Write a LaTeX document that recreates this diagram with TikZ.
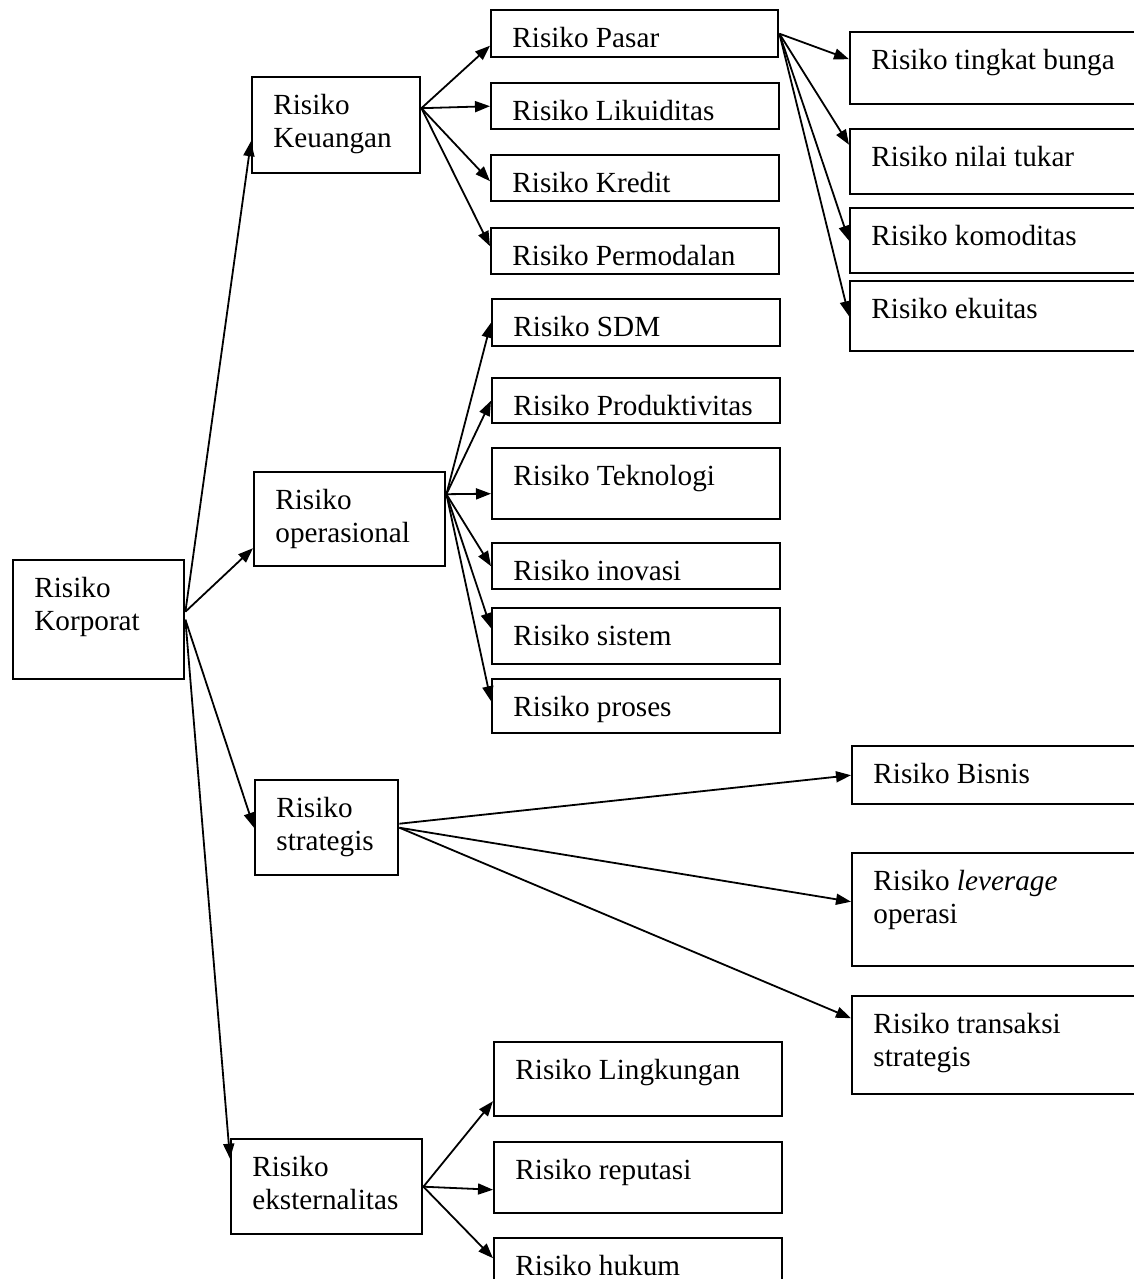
\documentclass[tikz,border=0pt]{standalone}
\usepackage{fontspec}
\setmainfont{Liberation Serif}
\usetikzlibrary{arrows.meta}

\begin{document}
\begin{tikzpicture}[x=0.5pt,y=-0.5pt,
	box/.style 2 args={draw,line width=1.2pt,anchor=north west,inner sep=0pt,minimum width=#1*0.5pt,minimum height=#2*0.5pt},
	txt/.style={anchor=north west,inner xsep=11pt,inner ysep=9pt,align=left,font=\fontsize{14.6pt}{16.5pt}\selectfont},
	>={Triangle[length=7.5pt,width=5.5pt]}]

	\useasboundingbox (0,0) rectangle (1134,1279);

	\node[box={171}{119},label={[txt]north west:Risiko\\Korporat}] (korporat) at (12,559) {};

	\node[box={168}{96},label={[txt]north west:Risiko\\Keuangan}] (keuangan) at (251,76) {};
	\node[box={191}{94},label={[txt]north west:Risiko\\operasional}] (operasional) at (253,471) {};
	\node[box={143}{95},label={[txt]north west:Risiko\\strategis}] (strategis) at (254,779) {};
	\node[box={191}{95},label={[txt]north west:Risiko\\eksternalitas}] (eksternal) at (230,1138) {};

	\node[box={287}{47},label={[txt]north west:Risiko Pasar}] (pasar) at (490,9) {};
	\node[box={288}{46},label={[txt]north west:Risiko Likuiditas}] (likuiditas) at (490,82) {};
	\node[box={288}{46},label={[txt]north west:Risiko Kredit}] (kredit) at (490,154) {};
	\node[box={288}{46},label={[txt]north west:Risiko Permodalan}] (permodalan) at (490,227) {};

	\node[box={288}{47},label={[txt]north west:Risiko SDM}] (sdm) at (491,298) {};
	\node[box={288}{45},label={[txt]north west:Risiko Produktivitas}] (produktivitas) at (491,377) {};
	\node[box={288}{71},label={[txt]north west:Risiko Teknologi}] (teknologi) at (491,447) {};
	\node[box={288}{46},label={[txt]north west:Risiko inovasi}] (inovasi) at (491,542) {};
	\node[box={288}{56},label={[txt]north west:Risiko sistem}] (sistem) at (491,607) {};
	\node[box={288}{54},label={[txt]north west:Risiko proses}] (proses) at (491,678) {};

	\node[box={288}{74},label={[txt]north west:Risiko Lingkungan}] (lingkungan) at (493,1041) {};
	\node[box={288}{71},label={[txt]north west:Risiko reputasi}] (reputasi) at (493,1141) {};
	\node[box={288}{70},label={[txt]north west:Risiko hukum}] (hukum) at (493,1237) {};

	% kolom kanan, terpotong di tepi
	\node[box={300}{72},label={[txt]north west:Risiko tingkat bunga}] (bunga) at (849,31) {};
	\node[box={300}{65},label={[txt]north west:Risiko nilai tukar}] (tukar) at (849,128) {};
	\node[box={300}{65},label={[txt]north west:Risiko komoditas}] (komoditas) at (849,207) {};
	\node[box={300}{70},label={[txt]north west:Risiko ekuitas}] (ekuitas) at (849,280) {};

	\node[box={300}{58},label={[txt]north west:Risiko Bisnis}] (bisnis) at (851,745) {};
	\node[box={300}{113},label={[txt]north west:Risiko \textit{leverage}\\operasi}] (leverage) at (851,852) {};
	\node[box={300}{98},label={[txt]north west:Risiko transaksi\\strategis}] (transaksi) at (851,995) {};

	\path[->,line width=0.9pt] ([yshift=4pt]korporat.east) edge ([yshift=-8pt]keuangan.west)
		([yshift=4pt]korporat.east) edge ([yshift=-14.5pt]operasional.west)
		(korporat.east) edge (strategis.west)
		(korporat.east) edge ([yshift=14pt]eksternal.west);

	\path[->,line width=0.9pt] ([yshift=8.5pt]keuangan.east) edge ([yshift=-6pt]pasar.west)
		([yshift=8.5pt]keuangan.east) edge (likuiditas.west)
		([yshift=8.5pt]keuangan.east) edge ([yshift=-1.5pt]kredit.west)
		([yshift=8.5pt]keuangan.east) edge ([yshift=2.5pt]permodalan.west);

	\path[->,line width=0.9pt] ([yshift=12.5pt]operasional.east) edge (sdm.west)
		([yshift=12.5pt]operasional.east) edge (produktivitas.west)
		([yshift=12.5pt]operasional.east) edge ([yshift=-5pt]teknologi.west)
		([yshift=12.5pt]operasional.east) edge (inovasi.west)
		([yshift=12.5pt]operasional.east) edge ([yshift=4pt]sistem.west)
		([yshift=12.5pt]operasional.east) edge ([yshift=2.5pt]proses.west);

	\path[->,line width=0.9pt] (pasar.east) edge ([yshift=4.5pt]bunga.west)
		(pasar.east) edge ([yshift=8.5pt]tukar.west)
		(pasar.east) edge (komoditas.west)
		(pasar.east) edge (ekuitas.west);

	\path[->,line width=0.9pt] ([yshift=2pt]strategis.east) edge (bisnis.west)
		(strategis.east) edge ([yshift=4pt]leverage.west)
		(strategis.east) edge ([yshift=13.5pt]transaksi.west);

	\path[->,line width=0.9pt] (eksternal.east) edge ([yshift=-11pt]lingkungan.west)
		(eksternal.east) edge ([yshift=-6pt]reputasi.west)
		(eksternal.east) edge ([yshift=7.5pt]hukum.west);

\end{tikzpicture}
\end{document}
